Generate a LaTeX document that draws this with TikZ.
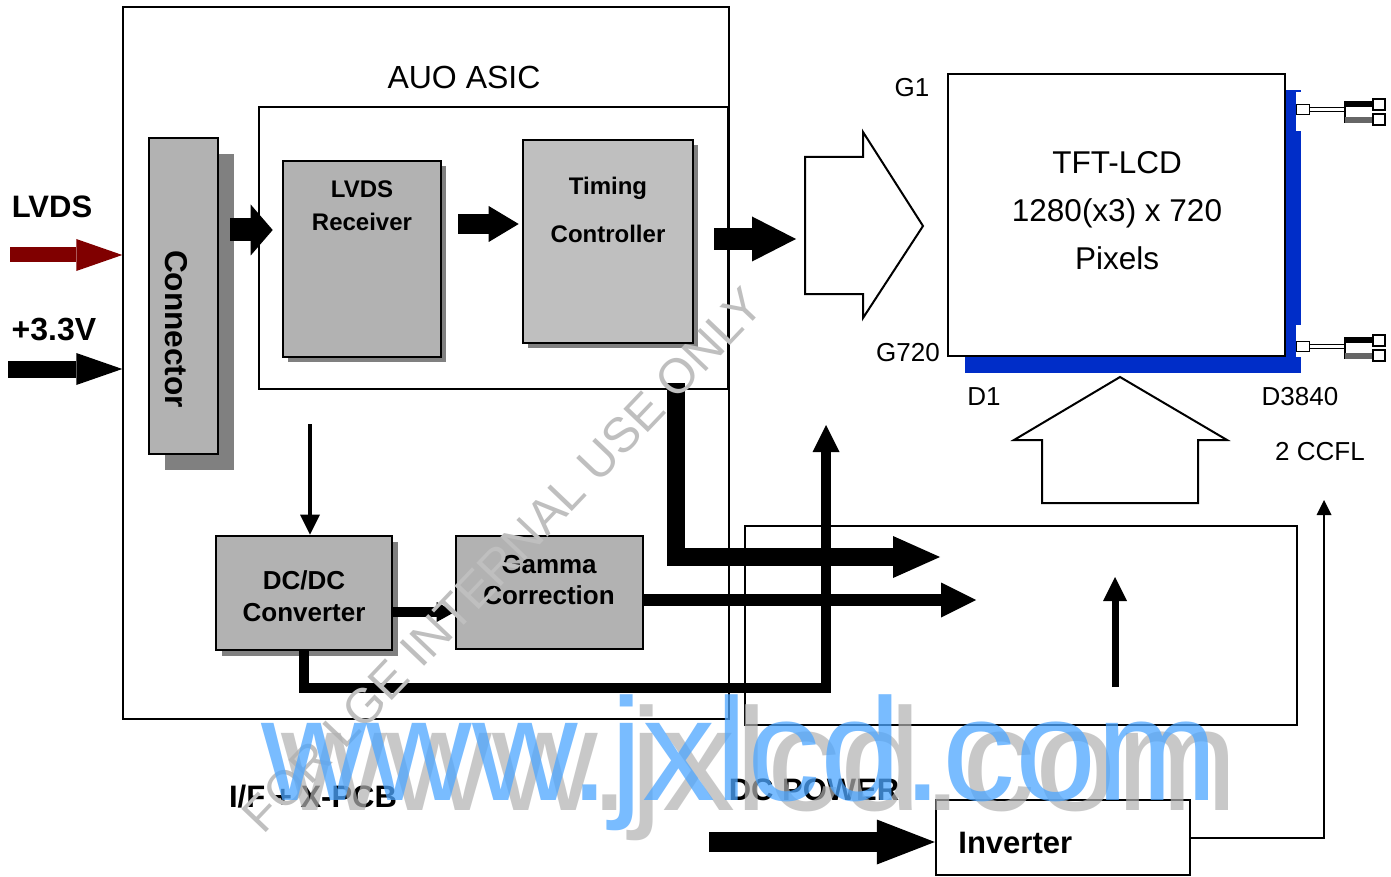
\documentclass[tikz,border=0pt]{standalone}
\usepackage{fontspec}
\setmainfont{Liberation Sans}
\usetikzlibrary{positioning, arrows.meta, fit, shadows, calc}
\definecolor{lvdsred}{RGB}{128,0,0}
\definecolor{panelblue}{RGB}{0,45,200}
\definecolor{wmblue}{RGB}{77,166,255}

\begin{document}
\begin{tikzpicture}[x=0.5pt, y=-0.5pt,
    pcbframe/.style={draw, line width=0.7pt, inner sep=0pt},
    chipbase/.style={draw, line width=1.3pt, fill=black!30, inner sep=0pt},
    chip/.style={chipbase, drop shadow={shadow xshift=#1, shadow yshift=-#1, fill=black!50, opacity=1}},
    chiptext/.style={align=center, inner sep=0pt, font=\bfseries\fontsize{12}{16.5}\selectfont},
    pinlabel/.style={inner sep=0pt, font=\fontsize{13}{16}\selectfont},
    boldtag/.style={inner sep=0pt, font=\bfseries\fontsize{15.5}{18}\selectfont},
    fat/.style n args={3}{line width=#1, -{Triangle[length=#2, width=#3, line width=0pt]}},
  ]
  \useasboundingbox (0,0) rectangle (1391,877);
  \fill[white] (0,0) rectangle (1391,877);

  % I/F + X-PCB side
  \node[pcbframe, fit={(123,7) (729,719)}] (ifpcb) {};
  \node[pcbframe, line width=1pt, fit={(259,107) (728,389)}] (asic) {};
  \node[font=\fontsize{16}{19}\selectfont, inner sep=0pt] (asictxt) at (464,77) {AUO ASIC};

  \node[chip=8pt, fit={(149,138) (218,454)}] (conn) {};
  \node[boldtag, font=\bfseries\fontsize{15.8}{18}\selectfont, rotate=-90] (conntxt) at (176,329) {Connector};

  \node[chip=2.5pt, fit={(283,161) (441,357)}] (rx) {};
  \node[chiptext] (rxtxt) at (362,206) {LVDS\\Receiver};

  \node[chip=2.5pt, fill=black!25, fit={(523,140) (693,343)}] (tc) {};
  \node[chiptext, font=\bfseries\fontsize{12}{24}\selectfont] (tctxt) at (608,210) {Timing\\Controller};

  \node[chip=3pt, fit={(216,536) (392,650)}] (dc) {};
  \node[chiptext, font=\bfseries\fontsize{13}{16}\selectfont] (dctxt) at (304,596) {DC/DC\\Converter};

  \node[chipbase, fit={(456,536) (643,649)}] (gm) {};
  \node[chiptext, font=\bfseries\fontsize{13}{15.5}\selectfont] (gmtxt) at (549,580) {Gamma\\Correction};

  \node[boldtag] (lvdstxt) at (52,207) {LVDS};
  \node[boldtag, font=\bfseries\fontsize{16}{18}\selectfont] (vcctxt) at (54,330) {+3.3V};
  \node[boldtag] (pcbtxt) at (313,797) {I/F + X-PCB};

  % panel side
  \fill[panelblue] (965,357) rectangle (1301,373);
  \fill[panelblue] (1286,90) rectangle (1296,373);
  \fill[panelblue] (1296,131) rectangle (1301,325);
  \fill[panelblue] (1296,90) rectangle (1301,92);
  \node[pcbframe, line width=1.1pt, fit={(948,74) (1285,356)}] (lcd) {};
  \node[align=center, inner sep=0pt, font=\fontsize{15.75}{24}\selectfont] (lcdtxt) at (1117,211) {TFT-LCD\\1280(x3) x 720\\Pixels};
  \foreach \dy in {0,236} {
    \draw[fill=white, line width=0.5pt] (1296,105+\dy) rectangle (1309,115+\dy);
    \draw[line width=0.5pt] (1309,108+\dy) -- (1345,108+\dy) (1309,112+\dy) -- (1345,112+\dy);
    \draw[line width=1.2pt] (1345,101+\dy) -- (1345,123+\dy);
    \fill (1345,101+\dy) rectangle (1373,107+\dy);
    \fill[black!60] (1345,117+\dy) rectangle (1373,123+\dy);
    \draw[fill=white, line width=0.6pt] (1373,99+\dy) rectangle (1385,110+\dy);
    \draw[fill=white, line width=0.6pt] (1373,114+\dy) rectangle (1385,125+\dy);
  }
  \node[pinlabel] (g1) at (912,88) {G1};
  \node[pinlabel] (g720) at (908,353) {G720};
  \node[pinlabel] (d1) at (984,397) {D1};
  \node[pinlabel] (d3840) at (1300,397) {D3840};
  \node[pinlabel] (ccfltxt) at (1320,452) {2 CCFL};

  \node[pcbframe, fit={(745,526) (1297,725)}] (drv) {};
  \node[pcbframe, line width=1.2pt, fit={(936,800) (1190,875)}] (inv) {};
  \node[boldtag, anchor=west] (invtxt) at (958,843) {Inverter};
  \node[boldtag] (dcpwr) at (814,790) {DC POWER};

  % hollow arrows
  \draw[line width=1pt] (805,157) -- (863,157) -- (863,132) -- (923,226) -- (863,318) -- (863,294) -- (805,294) -- cycle;
  \draw[line width=1pt] (1042,503) -- (1042,440) -- (1014,440) -- (1120,377) -- (1227,440) -- (1198,440) -- (1198,503) -- cycle;

  % free ends
  \coordinate (lvdsin) at (10,255);
  \coordinate (vccin) at (8,369);
  \coordinate (gatein) at (796,239);
  \coordinate (tcdown) at (676,383);
  \coordinate (drvin1) at (940,557);
  \coordinate (drvin2) at (976,600);
  \coordinate (dcfeed) at (310,424);
  \coordinate (pwrup) at (826,425);
  \coordinate (biaslow) at (1115,687);
  \coordinate (biashigh) at (1115,577);
  \coordinate (dcin) at (709,842);
  \coordinate (ccfl) at (1324,500);

  % signal and power arrows
  \draw[fat={7.5pt}{23pt}{16pt}, lvdsred] (lvdsin) -- (lvdsin -| ifpcb.west);
  \draw[fat={8.5pt}{23pt}{16pt}] (vccin) -- (vccin -| ifpcb.west);
  \draw[fat={11.5pt}{11pt}{25.5pt}] ($(conn.east |- 0,230)+(11,0)$) -- ($(rx.west |- 0,230)+(-9,0)$);
  \draw[fat={10pt}{15pt}{18pt}] ($(rx.east |- 0,224)+(16,0)$) -- ($(tc.west |- 0,224)+(-3,0)$);
  \draw[fat={11pt}{22pt}{22.5pt}] ($(tc.east |- gatein)+(20,0)$) -- (gatein);
  \draw[fat={9pt}{23.5pt}{21pt}] (tcdown) |- (drvin1);
  \draw[fat={6pt}{17.5pt}{17.5pt}] (gm.east |- drvin2) -- (drvin2);
  \draw[fat={2pt}{10pt}{10pt}] (dcfeed) -- (dcfeed |- dc.north);
  \draw[fat={5pt}{9pt}{10pt}] (dc.east |- 0,612) -- (gm.west |- 0,612);
  \draw[fat={5pt}{13.5pt}{13.5pt}] (dc.south) |- (pwrup |- 0,688) -- (pwrup);
  \draw[fat={3.5pt}{12pt}{12pt}] (biaslow) -- (biashigh);
  \draw[fat={10pt}{29pt}{22.5pt}] (dcin) -- (dcin -| inv.west);
  \draw[line width=1pt, -{Triangle[length=7.5pt, width=7.5pt, line width=0pt]}] (inv.east) -| (ccfl);

  % watermarks
  \node[rotate=46.4, text=black!25, inner sep=0pt, font=\fontsize{24.5}{26}\selectfont] (wmnote) at (503,560) {FOR LGE INTERNAL USE ONLY};
  \node[anchor=base, text=black!30, opacity=0.7, inner sep=0pt, font=\fontsize{73}{80}\selectfont] (wmshadow) at (760,810) {www.jxlcd.com};
  \node[anchor=base, text=wmblue, opacity=0.75, inner sep=0pt, font=\fontsize{73}{80}\selectfont] (wmsite) at (740,800) {www.jxlcd.com};
\end{tikzpicture}
\end{document}
